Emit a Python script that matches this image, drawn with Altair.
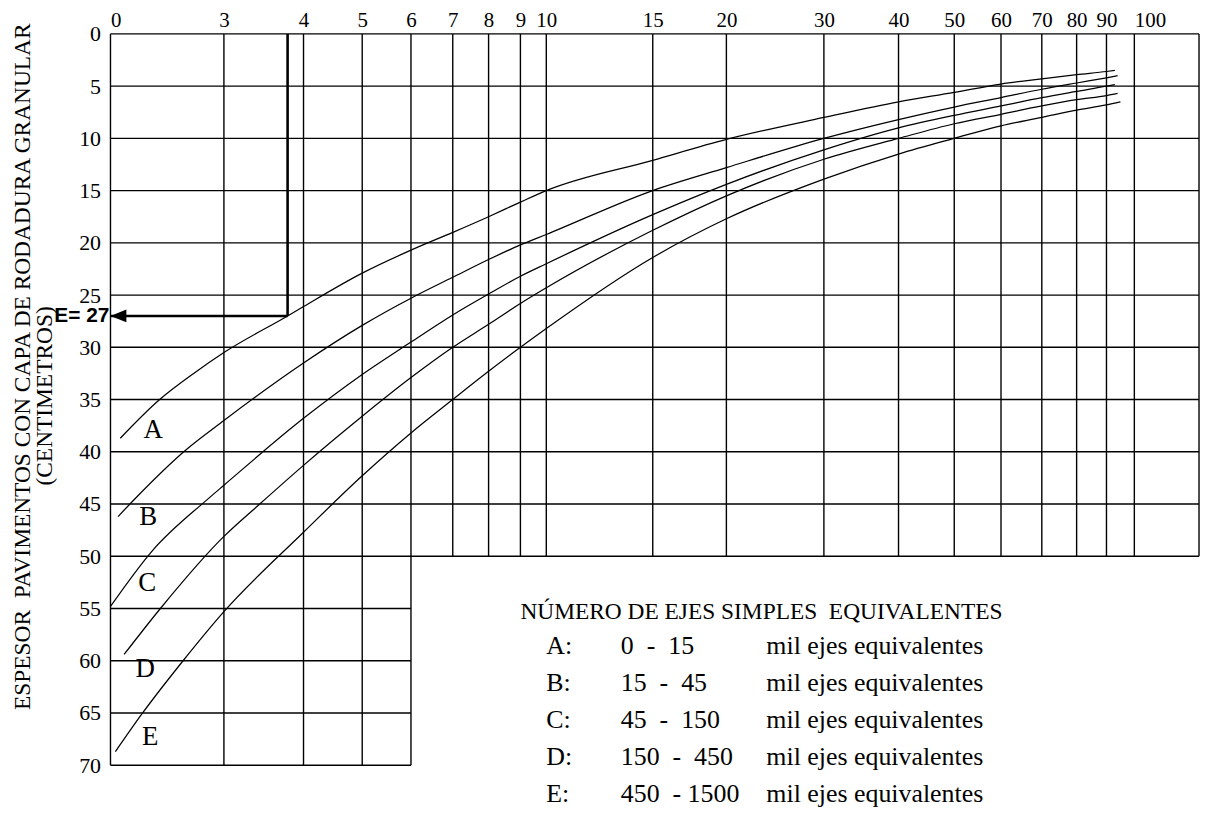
import altair as alt
import pandas as pd

SERIF = "Liberation Serif"

# ---- axis ticks ----
x_ticks = [0, 3, 4, 5, 6, 7, 8, 9, 10, 15, 20, 30, 40, 50, 60, 70, 80, 90, 100]
x_end = 129
y_ticks = list(range(0, 75, 5))

# ---- curves (CBR %, thickness cm) ----
A_cbr = [0.26, 1.3, 2.2, 3, 3.8, 4, 5, 6, 7, 8, 9, 10, 15, 20, 30, 40, 50, 60, 70, 80, 90, 93]
A_esp = [38.7, 35.0, 32.5, 30.5, 27.0, 26.1, 22.9, 20.7, 19.0, 17.5, 16.1, 15.0, 12.1, 10.1, 8.0, 6.5, 5.6, 4.8, 4.3, 3.9, 3.6, 3.5]

B_cbr = [0.2, 0.7, 2.0, 3, 4, 5, 6, 7, 8, 9, 10, 15, 20, 30, 40, 50, 60, 70, 80, 90, 94]
B_esp = [46.2, 44.3, 39.8, 37.0, 31.5, 27.9, 25.3, 23.3, 21.6, 20.2, 19.2, 15.0, 12.8, 10.0, 8.2, 7.0, 6.1, 5.3, 4.7, 4.2, 4.0]

C_cbr = [0, 1.1, 2.55, 3, 4, 5, 6, 7, 8, 9, 10, 15, 20, 30, 40, 50, 60, 70, 80, 90, 93]
C_esp = [54.8, 49.5, 44.6, 43.2, 36.8, 32.6, 29.5, 26.9, 24.9, 23.2, 22.0, 17.3, 14.4, 11.1, 9.0, 7.8, 6.9, 6.1, 5.5, 5.0, 4.85]

D_cbr = [0.36, 1.32, 3, 3.45, 4, 5, 6, 7, 8, 9, 10, 15, 20, 30, 40, 50, 60, 70, 80, 90, 94]
D_esp = [59.4, 55.0, 48.1, 45.0, 41.3, 36.6, 32.9, 30.0, 27.8, 25.8, 24.3, 18.8, 15.5, 12.0, 10.0, 8.6, 7.7, 6.9, 6.3, 5.9, 5.7]

E_cbr = [0.13, 0.85, 1.92, 3, 4, 5, 6, 7, 8, 9, 10, 15, 20, 30, 40, 50, 60, 70, 80, 90, 95]
E_esp = [68.7, 65.0, 60.0, 55.3, 47.7, 42.3, 38.2, 35.0, 32.3, 30.0, 28.2, 21.4, 17.7, 13.9, 11.5, 10.0, 8.8, 8.0, 7.3, 6.8, 6.5]

curve_names = ["A", "B", "C", "D", "E"]
label_cbr = [1.13, 1.0, 0.97, 0.92, 1.05]
label_esp = [37.9, 46.2, 52.6, 60.8, 67.3]

# ---- design example ----
design_cbr = 3.8
design_esp = 27

# ---- legend text ----
legend_title = "NÚMERO DE EJES SIMPLES\u00a0 EQUIVALENTES"
legend_keys = ["A:", "B:", "C:", "D:", "E:"]
legend_ranges = ["0\u00a0 -\u00a0 15", "15\u00a0 -\u00a0 45", "45\u00a0 -\u00a0 150",
                 "150\u00a0 -\u00a0 450", "450\u00a0 - 1500"]
legend_unit = "mil ejes equivalentes"

y_title_1 = "ESPESOR\u00a0 PAVIMENTOS CON CAPA DE RODADURA GRANULAR"
y_title_2 = "(CENTIMETROS)"

# ---------------------------------------------------------------
x_range_px = [0, 114, 194, 253, 302, 344, 380, 412, 438, 545, 619, 717,
              792, 848, 895, 936, 971, 1001, 1029, 1094]
xs = alt.Scale(domain=x_ticks + [x_end], range=x_range_px, zero=False, nice=False)
ys = alt.Scale(domain=[0, 70], reverse=True, zero=False, nice=False)

xaxis = alt.Axis(orient="top", values=x_ticks, title=None, domain=False, ticks=False,
                 tickSize=0, grid=False, labelFont=SERIF, labelFontSize=21,
                 labelColor="black", labelPadding=3, labelOverlap=False, labelFlush=False,
                 labelAlign={"expr": "datum.value == 0 || datum.value == 100 ? 'left' : 'center'"})
# trailing blanks (kept by a zero-width space) shift the second title line downwards
yaxis = alt.Axis(orient="left", values=y_ticks, domain=False, ticks=False, tickSize=0,
                 grid=False, labelFont=SERIF, labelFontSize=22, labelColor="black",
                 labelPadding=10, labelOverlap=False, labelFlush=False,
                 title=[y_title_1, y_title_2 + "\u00a0" * 10 + "\u200b"],
                 titleFont=SERIF, titleFontSize=23.5, titleFontWeight="normal",
                 titleColor="black", titleAngle=270, titleAlign="center",
                 titleBaseline="middle", titleLineHeight=22, titleX=-88, titleY=334)


def X(f):
    return alt.X(f, type="quantitative", scale=xs, axis=xaxis)


def Y(f):
    return alt.Y(f, type="quantitative", scale=ys, axis=yaxis)


# grid tables
vgrid = pd.DataFrame({"x": x_ticks + [x_end]})
vgrid["y0"] = 0
vgrid["y1"] = [70 if v <= 6 else 50 for v in vgrid["x"]]
hgrid = pd.DataFrame({"y": y_ticks})
hgrid["x0"] = 0
hgrid["x1"] = [x_end if v <= 50 else 6 for v in hgrid["y"]]

curves = pd.concat([
    pd.DataFrame({"curve": n, "x": c, "y": e})
    for n, c, e in zip(curve_names, [A_cbr, B_cbr, C_cbr, D_cbr, E_cbr],
                       [A_esp, B_esp, C_esp, D_esp, E_esp])
])
labels = pd.DataFrame({"t": curve_names, "x": label_cbr, "y": label_esp})

design = pd.DataFrame({"x": [design_cbr], "y": [design_esp], "x0": [0], "y0": [0],
                       "t": ["E= %d" % design_esp]})

# legend table (text positions in chart units)
leg_rows = pd.DataFrame({"k": legend_keys, "r": legend_ranges, "u": [legend_unit] * 5})
leg_rows["y"] = [58.6 + 3.55 * i for i in range(len(leg_rows))]
leg_rows["xk"] = 10
leg_rows["xr"] = 13.5
leg_rows["xu"] = 24.1
leg_head = pd.DataFrame({"t": [legend_title], "x": [9], "y": [55.3]})

base_line = dict(color="black", strokeWidth=1.4)

h_layer = alt.Chart(hgrid).mark_rule(**base_line).encode(x=X("x0"), x2="x1", y=Y("y"))
v_layer = alt.Chart(vgrid).mark_rule(**base_line).encode(x=X("x"), y=Y("y0"), y2="y1")
curve_layer = alt.Chart(curves).mark_line(color="black", strokeWidth=1.25,
                                          interpolate="monotone").encode(
    x=X("x"), y=Y("y"), detail="curve:N")
label_layer = alt.Chart(labels).mark_text(font=SERIF, fontSize=27, color="black",
                                          align="center", baseline="middle").encode(
    x=X("x"), y=Y("y"), text="t:N")

arrow_v = alt.Chart(design).mark_rule(color="black", strokeWidth=2.6).encode(
    x=X("x"), y=Y("y0"), y2="y")
arrow_h = alt.Chart(design).mark_rule(color="black", strokeWidth=2.6).encode(
    x=X("x0"), x2="x", y=Y("y"))
arrow_head = alt.Chart(design).mark_point(shape="M0,0L2,-0.8L2,0.8Z", filled=True,
                                          color="black", opacity=1, size=256,
                                          strokeWidth=0).encode(x=X("x0"), y=Y("y"))
design_text = alt.Chart(design).mark_text(font="Liberation Sans", fontWeight="bold",
                                          fontSize=21, color="black", align="right",
                                          baseline="middle", dx=-1).encode(
    x=X("x0"), y=Y("y"), text="t:N")

head_layer = alt.Chart(leg_head).mark_text(font=SERIF, fontSize=23.5, color="black",
                                           align="left", baseline="middle").encode(
    x=X("x"), y=Y("y"), text="t:N")
key_layer = alt.Chart(leg_rows).mark_text(font=SERIF, fontSize=26, color="black",
                                          align="left", baseline="middle").encode(
    x=X("xk"), y=Y("y"), text="k:N")
range_layer = alt.Chart(leg_rows).mark_text(font=SERIF, fontSize=26, color="black",
                                            align="left", baseline="middle").encode(
    x=X("xr"), y=Y("y"), text="r:N")
unit_layer = alt.Chart(leg_rows).mark_text(font=SERIF, fontSize=26, color="black",
                                           align="left", baseline="middle").encode(
    x=X("xu"), y=Y("y"), text="u:N")

chart = alt.layer(
    h_layer, v_layer, curve_layer, label_layer,
    arrow_v, arrow_h, arrow_head, design_text,
    head_layer, key_layer, range_layer, unit_layer,
).properties(
    width=1094, height=735,
    autosize=alt.AutoSizeParams(type="none"),
    padding={"left": 103, "top": 24, "right": 2, "bottom": 44},
    background="white",
).configure_view(stroke=None)

chart.save("out.html", embed_options={"renderer": "svg", "actions": False})
